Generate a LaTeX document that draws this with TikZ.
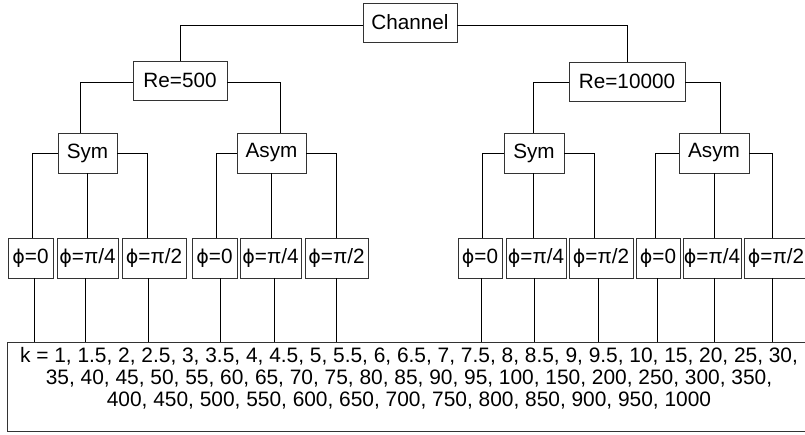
\documentclass[tikz,border=0pt]{standalone}
\usepackage{fontspec}
\setmainfont{Liberation Sans}
\newfontfamily\phifont[Scale=0.92]{DejaVu Sans}
\newcommand{\ph}{{\phifont ϕ}}
\begin{document}
\begin{tikzpicture}[x=1pt,y=-1pt,
  box/.style={draw=black!80, line width=0.8pt, inner sep=0pt, font=\fontsize{20.7}{22}\selectfont},
  conn/.style={draw=black, line width=0.8pt},
  ktext/.style={inner sep=0pt, align=center, font=\fontsize{20.9}{22}\selectfont}]
\useasboundingbox (0,0) rectangle (805,434);
% level 0-2
\node[box, minimum width=94pt, minimum height=39pt] (ch) at (410,22.5) {Channel};
\node[box, minimum width=94pt, minimum height=39pt] (reA) at (180,80.5) {Re=500};
\node[box, minimum width=116pt, minimum height=39pt] (reB) at (627,81.5) {Re=10000};
\node[box, minimum width=59pt, minimum height=40pt] (symA) at (87.5,153) {Sym};
\node[box, minimum width=69pt, minimum height=40pt] (asymA) at (271.5,153) {Asym};
\node[box, minimum width=60pt, minimum height=40pt] (symB) at (534,153) {Sym};
\node[box, minimum width=70pt, minimum height=40pt] (asymB) at (714,153) {Asym};
% phi level
\node[box, minimum width=45pt, minimum height=40pt] (p1) at (30.5,258) {\ph=0};
\node[box, minimum width=61pt, minimum height=40pt] (p2) at (87.5,258) {\ph=π/4};
\node[box, minimum width=64pt, minimum height=40pt] (p3) at (154,258) {\ph=π/2};
\node[box, minimum width=45pt, minimum height=40pt] (p4) at (214.5,258) {\ph=0};
\node[box, minimum width=61pt, minimum height=40pt] (p5) at (270.5,258) {\ph=π/4};
\node[box, minimum width=63pt, minimum height=40pt] (p6) at (336.5,258) {\ph=π/2};
\node[box, minimum width=44pt, minimum height=40pt] (p7) at (480,258) {\ph=0};
\node[box, minimum width=60pt, minimum height=40pt] (p8) at (536,258) {\ph=π/4};
\node[box, minimum width=64pt, minimum height=40pt] (p9) at (601,258) {\ph=π/2};
\node[box, minimum width=44pt, minimum height=40pt] (p10) at (658,258) {\ph=0};
\node[box, minimum width=58pt, minimum height=40pt] (p11) at (712,258) {\ph=π/4};
\node[box, minimum width=64pt, minimum height=40pt] (p12) at (776,258) {\ph=π/2};
% k box
\node[box, minimum width=802pt, minimum height=89pt] (k) at (408,386.5) {};
\node[ktext] (kt) at (409,378) {k = 1, 1.5, 2, 2.5, 3, 3.5, 4, 4.5, 5, 5.5, 6, 6.5, 7, 7.5, 8, 8.5, 9, 9.5, 10, 15, 20, 25, 30,\\
35, 40, 45, 50, 55, 60, 65, 70, 75, 80, 85, 90, 95, 100, 150, 200, 250, 300, 350,\\
400, 450, 500, 550, 600, 650, 700, 750, 800, 850, 900, 950, 1000};
% connectors
\draw[conn] ([yshift=-3pt]ch.west) -| (reA.north);
\draw[conn] ([yshift=-3pt]ch.east) -| (reB.north);
\draw[conn] ([yshift=-2pt]reA.west) -| ([xshift=-7.5pt]symA.north);
\draw[conn] ([yshift=-2pt]reA.east) -| ([xshift=8.5pt]asymA.north);
\draw[conn] ([yshift=-1pt]reB.west) -| ([xshift=-1pt]symB.north);
\draw[conn] ([yshift=-1pt]reB.east) -| ([xshift=6pt]asymB.north);
% sym/asym to phi
\draw[conn] (symA.west) -| ([xshift=1.5pt]p1.north);
\draw[conn] (symA.south) -- (symA.south |- p2.north);
\draw[conn] (symA.east) -| ([xshift=-7pt]p3.north);
\draw[conn] (asymA.west) -| ([xshift=1.5pt]p4.north);
\draw[conn] (asymA.south) -- (asymA.south |- p5.north);
\draw[conn] (asymA.east) -| ([xshift=-0.5pt]p6.north);
\draw[conn] (symB.west) -| ([xshift=2pt]p7.north);
\draw[conn] ([xshift=-1pt]symB.south) -- ([xshift=-1pt]symB.south |- p8.north);
\draw[conn] (symB.east) -| ([xshift=-7pt]p9.north);
\draw[conn] (asymB.west) -| ([xshift=-3pt]p10.north);
\draw[conn] (asymB.south) -- (asymB.south |- p11.north);
\draw[conn] (asymB.east) -| ([xshift=-4pt]p12.north);
% phi to k
\foreach \p/\d in {p1/3.5, p2/-2.5, p3/-6, p4/5.5, p5/3.5, p6/0, p7/1, p8/-2, p9/-3, p10/-1, p11/2, p12/-4}
  \draw[conn] ([xshift=\d pt]\p.south) -- ([xshift=\d pt]\p.south |- k.north);
\end{tikzpicture}
\end{document}
